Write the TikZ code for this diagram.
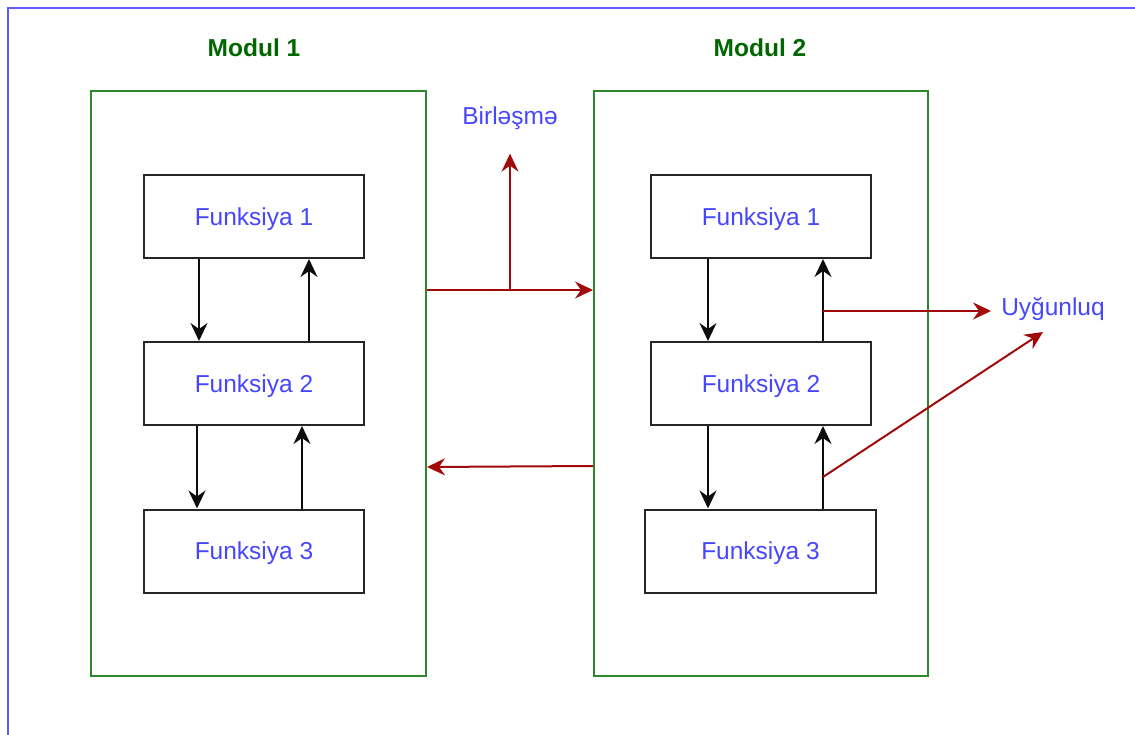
\documentclass[tikz,border=0pt]{standalone}
\usepackage{fontspec}
\setmainfont{Liberation Sans}
\usetikzlibrary{arrows.meta,calc}

\definecolor{frameblue}{RGB}{92,92,255}
\definecolor{modgreen}{RGB}{45,135,45}
\definecolor{titlegreen}{RGB}{0,102,0}
\definecolor{textblue}{RGB}{70,70,255}
\definecolor{linkred}{RGB}{160,10,10}

\tikzset{
  modbox/.style={draw=modgreen, line width=2pt, minimum width=335pt, minimum height=585pt, inner sep=0pt},
  modtitle/.style={font=\fontsize{24.5}{28}\selectfont\bfseries, text=titlegreen, inner sep=0pt},
  funcbox/.style={draw=black!85, line width=2pt, fill=white, minimum width=220pt, minimum height=83pt, inner sep=0pt,
    text depth=0pt, font=\fontsize{24.5}{28}\selectfont, text=textblue},
  linklabel/.style={font=\fontsize{24.5}{28}\selectfont, text=textblue, inner sep=0pt},
  tip/.style={-{Stealth[length=18pt, width=17pt, inset=6pt]}},
  flow/.style={tip, draw=black!95, line width=2.1pt},
  link/.style={draw=linkred, line width=2pt},
  linkarr/.style={link, tip},
}

\begin{document}
\begin{tikzpicture}[x=1pt, y=-1pt]
  \useasboundingbox (0,0) rectangle (1135,735);

  % outer frame (top and left edges)
  \draw[frameblue, line width=2.5pt] (8,735) -- (8,8) -- (1135,8);

  % modules
  \node[modbox] (m1) at (258.5,383.5) {};
  \node[modbox, minimum width=334pt] (m2) at (761,383.5) {};
  \node[modtitle] (t1) at (254,48) {Modul 1};
  \node[modtitle] (t2) at (760,48) {Modul 2};

  % functions of module 1
  \node[funcbox] (a1) at (254,216.5) {Funksiya 1};
  \node[funcbox] (a2) at (254,383.5) {Funksiya 2};
  \node[funcbox] (a3) at (254,551) {Funksiya 3};

  % functions of module 2
  \node[funcbox] (b1) at (761,216.5) {Funksiya 1};
  \node[funcbox] (b2) at (761,383.5) {Funksiya 2};
  \node[funcbox, minimum width=231pt] (b3) at (760.5,551) {Funksiya 3};

  % calls inside module 1
  \draw[flow] ([xshift=-55pt]a1.south) -- ([xshift=-55pt]a2.north);
  \draw[flow] ([xshift=55pt]a2.north) -- ([xshift=55pt]a1.south);
  \draw[flow] ([xshift=-57pt]a2.south) -- ([xshift=-57pt]a3.north);
  \draw[flow] ([xshift=48pt]a3.north) -- ([xshift=48pt]a2.south);

  % calls inside module 2
  \draw[flow] ([xshift=-53pt]b1.south) -- ([xshift=-53pt]b2.north);
  \draw[flow] ([xshift=62pt]b2.north) -- ([xshift=62pt]b1.south);
  \draw[flow] ([xshift=-53pt]b2.south) -- ([xshift=-53pt]b2.south |- b3.north);
  \draw[flow] ([xshift=62pt]b2.south |- b3.north) -- ([xshift=62pt]b2.south);

  % coupling between modules
  \node[linklabel] (bl) at (510,118) {Birləşmə};
  \coordinate (j) at (510,290);
  \draw[link] (m1.east |- j) -- (j);
  \draw[linkarr] (j) -- (m2.west |- j);
  \draw[linkarr] (j) -- ([yshift=-24pt]bl.south);
  \draw[linkarr] (m2.west |- 0,466) -- (m1.east |- 0,467);

  % cohesion inside module 2
  \node[linklabel] (uy) at (1053,309) {Uyğunluq};
  \coordinate (c1) at (823,311);
  \coordinate (c2) at (823,477);
  \coordinate (ct) at (1043,332);
  \draw[linkarr] (c1) -- ([xshift=-10pt]uy.west |- c1);
  \draw[linkarr] (c2) -- (ct);
\end{tikzpicture}
\end{document}
